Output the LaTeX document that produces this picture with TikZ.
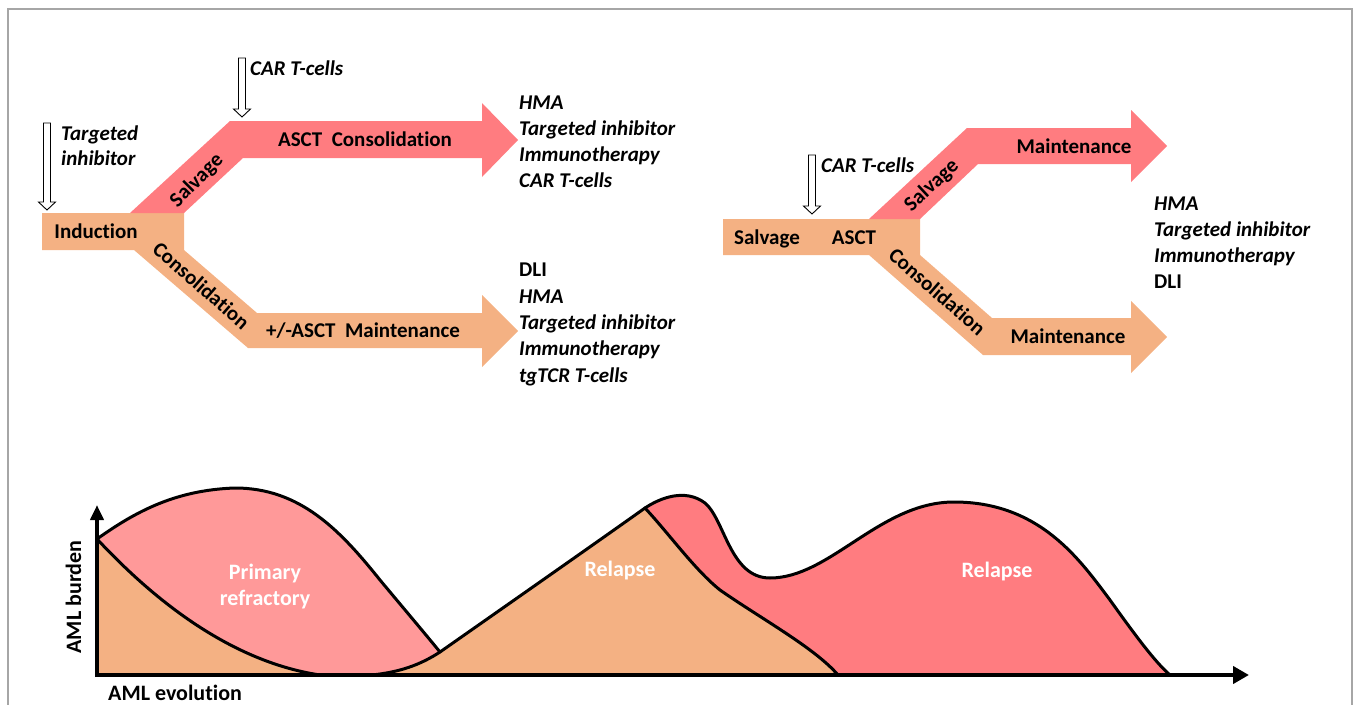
\documentclass[tikz,border=0pt]{standalone}
\usepackage{fontspec}
\setmainfont{Carlito}[Ligatures=NoCommon]
\usetikzlibrary{arrows.meta,calc}
\definecolor{orF}{HTML}{F4B183}
\definecolor{rdF}{HTML}{FF7C80}
\definecolor{pkF}{HTML}{FF9999}
\definecolor{frameG}{HTML}{A6A6A6}
\newcommand\hollowarrow[2]{%
  \draw[harrow] ($(#1)+(-3.5,0)$) -- ($(#2)+(-3.5,-8)$) -- ($(#2)+(-8.5,-8)$) -- (#2)
    -- ($(#2)+(8.5,-8)$) -- ($(#2)+(3.5,-8)$) -- ($(#1)+(3.5,0)$) -- cycle;}
\begin{document}
\begin{tikzpicture}[x=1pt,y=-1pt,
  lbl/.style={font=\bfseries\fontsize{21}{26}\selectfont, inner sep=0pt, text height=13.5pt, text depth=0pt},
  lst/.style={lbl, font=\bfseries\itshape\fontsize{21}{26}\selectfont, anchor=west},
  lstu/.style={lbl, anchor=west},
  glbl/.style={font=\bfseries\fontsize{22}{26}\selectfont, inner sep=0pt, text height=14pt, text depth=0pt},
  wlbl/.style={glbl, text=white},
  harrow/.style={draw=black, fill=white, line width=0.9pt, line join=miter},
  curve/.style={draw=black, line width=3pt, line join=round, line cap=round},
  axisline/.style={draw=black, line width=4.5pt}]
\useasboundingbox (0,0) rectangle (1354,704);
% frame
\draw[frameG, line width=1.3pt] (8,712) -- (8,9) -- (1352,9) -- (1352,712);

% ---------- left scheme ----------
\fill[orF] (42,213) -- (184,213) -- (184,250) -- (257,313) -- (482,313) -- (482,295) -- (518,331)
  -- (482,367) -- (482,348) -- (248,348) -- (134,250) -- (42,250) -- cycle;
\fill[rdF] (130,213) -- (230,121) -- (482,121) -- (482,103) -- (518,140) -- (482,177) -- (482,158)
  -- (243,158) -- (184,213) -- cycle;
\node[lbl] (ind) at (96,232) {Induction};
\node[lbl, rotate=45] (salvL) at (196,180) {Salvage};
\node[lbl, rotate=-41] (consL) at (201,286) {Consolidation};
\node[lbl] (asctC) at (365,140) {ASCT~~Consolidation};
\node[lbl] (asctM) at (363,331) {+/-ASCT~~Maintenance};

\coordinate (tiTop) at (47,123); \coordinate (tiTip) at (47,210);
\hollowarrow{tiTop}{tiTip}
\node[lst] (ti1) at (61,134) {Targeted};
\node[lst] (ti2) at (61,159) {inhibitor};
\coordinate (carTop) at (242,58); \coordinate (carTip) at (242,117);
\hollowarrow{carTop}{carTip}
\node[lst] (car1) at (250,69) {CAR T-cells};

\node[lst] (a1) at (519,103) {HMA};
\node[lst] (a2) at (519,129) {Targeted inhibitor};
\node[lst] (a3) at (519,155) {Immunotherapy};
\node[lst] (a4) at (519,181) {CAR T-cells};
\node[lstu] (b1) at (519,270) {DLI};
\node[lst] (b2) at (519,297) {HMA};
\node[lst] (b3) at (519,323) {Targeted inhibitor};
\node[lst] (b4) at (519,349) {Immunotherapy};
\node[lst] (b5) at (519,376) {tgTCR T-cells};

% ---------- right scheme ----------
\fill[orF] (723,219) -- (920,219) -- (920,255) -- (992,318) -- (1131,318) -- (1131,301) -- (1167,337)
  -- (1131,373) -- (1131,355) -- (983,355) -- (869,255) -- (723,255) -- cycle;
\fill[rdF] (869,219) -- (967,128) -- (1131,128) -- (1131,110) -- (1167,146) -- (1131,182) -- (1131,164)
  -- (978,164) -- (920,219) -- cycle;
\node[lbl] (salvR) at (767,238) {Salvage};
\node[lbl] (asctR) at (854,238) {ASCT};
\node[lbl, rotate=43] (salvR2) at (931,185) {Salvage};
\node[lbl, rotate=-41] (consR) at (937,292) {Consolidation};
\node[lbl] (mainR1) at (1074,147) {Maintenance};
\node[lbl] (mainR2) at (1068,337) {Maintenance};
\coordinate (car2Top) at (812,155); \coordinate (car2Tip) at (812,214);
\hollowarrow{car2Top}{car2Tip}
\node[lst] (car2) at (821,166) {CAR T-cells};
\node[lst] (c1) at (1154,204) {HMA};
\node[lst] (c2) at (1154,230) {Targeted inhibitor};
\node[lst] (c3) at (1154,256) {Immunotherapy};
\node[lstu] (c4) at (1154,282) {DLI};

% ---------- bottom graph ----------
\fill[pkF] (97,539) .. controls (135,512) and (175,490) .. (235,488)
  .. controls (300,488) and (340,530) .. (380,580)
  .. controls (405,610) and (422,630) .. (440,652) -- (440,675) -- (97,675) -- cycle;
\fill[orF] (97,539) .. controls (140,585) and (220,660) .. (320,675) -- (97,675) -- cycle;
\fill[rdF] (645,508) .. controls (660,498) and (685,488) .. (705,503)
  .. controls (725,520) and (730,578) .. (770,578)
  .. controls (830,578) and (880,502) .. (954,502)
  .. controls (1040,502) and (1080,560) .. (1110,600)
  .. controls (1135,635) and (1155,662) .. (1170,675) -- (645,675) -- cycle;
\fill[orF] (372,675) .. controls (400,672) and (420,665) .. (440,652)
  .. controls (510,603) and (600,540) .. (645,508)
  .. controls (670,535) and (695,570) .. (720,590)
  .. controls (760,618) and (815,648) .. (838,675) -- cycle;

\draw[curve] (97,539) .. controls (135,512) and (175,490) .. (235,488)
  .. controls (300,488) and (340,530) .. (380,580)
  .. controls (405,610) and (422,630) .. (440,652);
\draw[curve] (97,539) .. controls (140,585) and (220,660) .. (320,675);
\draw[curve] (372,675) .. controls (400,672) and (420,665) .. (440,652)
  .. controls (510,603) and (600,540) .. (645,508);
\draw[curve] (645,508) .. controls (670,535) and (695,570) .. (720,590)
  .. controls (760,618) and (815,648) .. (838,675);
\draw[curve] (645,508) .. controls (660,498) and (685,488) .. (705,503)
  .. controls (725,520) and (730,578) .. (770,578)
  .. controls (830,578) and (880,502) .. (954,502)
  .. controls (1040,502) and (1080,560) .. (1110,600)
  .. controls (1135,635) and (1155,662) .. (1170,675);

\coordinate (orig) at (97,677);
\coordinate (ytip) at (97,505);
\coordinate (xorig) at (95,675);
\coordinate (xtip) at (1249,675);
\draw[axisline, -{Triangle[length=15pt,width=13pt]}] (orig) -- (ytip);
\draw[axisline, -{Triangle[length=16pt,width=17pt]}] (xorig) -- (xtip);

\node[wlbl] (prim1) at (265,572) {Primary};
\node[wlbl] (prim2) at (265,598) {refractory};
\node[wlbl] (rel1) at (620,569) {Relapse};
\node[wlbl] (rel2) at (997,570) {Relapse};
\node[glbl, rotate=90] (burden) at (74,597) {AML burden};
\node[glbl, anchor=west] (evol) at (108,693) {AML evolution};
\end{tikzpicture}
\end{document}
